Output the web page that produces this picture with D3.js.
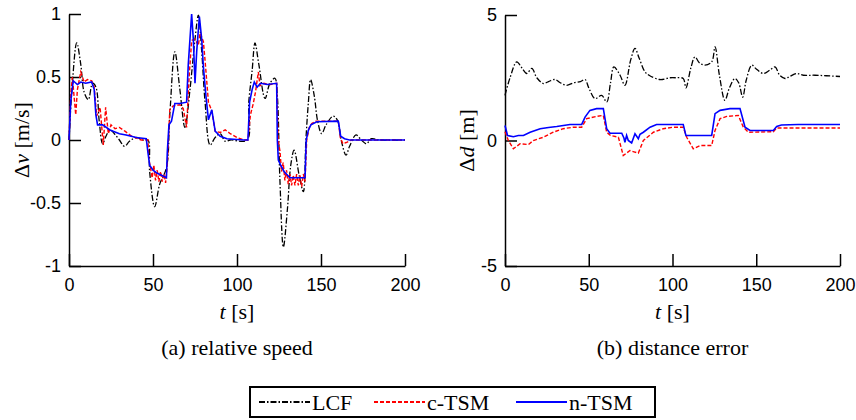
<!DOCTYPE html>
<html>
<head>
<meta charset="utf-8">
<script src="https://cdn.jsdelivr.net/npm/d3@7"></script>
<style>
  body { margin: 0; background: #fff; }
  svg text { fill: #000; }
  .serif { font-family: "Times New Roman", "Liberation Serif", serif; font-size: 22px; }
  .sans { font-family: Arial, "Liberation Sans", sans-serif; font-size: 18px; }
</style>
</head>
<body>
<svg id="chart" width="856" height="420"></svg>
<script>
// ---- data: [t, value] ----
const speedLCF = [[0,0],[2,0.45],[4.6,0.77],[7,0.6],[9,0.38],[11.5,0.32],[14,0.45],[16,0.42],[18,0.15],[20,-0.03],[22,0.03],[24.4,0.08],[27,0.05],[30,0],[33,-0.05],[36,-0.01],[40,0.02],[44,0],[47,0],[48,-0.25],[51,-0.53],[54,-0.35],[58,-0.22],[60,0.2],[63,0.7],[66,0.4],[69,0.1],[72,0.4],[75,0.8],[77,0.99],[79,0.7],[81,0.3],[84,-0.04],[87,0.02],[90,0.05],[93,-0.01],[96,0],[106,0],[107,0.3],[109,0.55],[110.7,0.77],[113,0.6],[116.7,0.33],[119.6,0.45],[122.6,0.49],[124,0.35],[125.5,-0.3],[127.6,-0.85],[130,-0.55],[132,-0.2],[134,-0.08],[137,-0.28],[139.5,-0.41],[141,0],[142.5,0.3],[143.8,0.48],[146,0.35],[148,0.15],[150.4,0.05],[153,0.12],[157.3,0.19],[160,0.15],[162,0],[164.9,-0.12],[167,-0.05],[170.8,0.04],[174,0],[177,-0.03],[180,0.01],[185,0],[200,0]];
const speedCTSM = [[0,0],[1,0.35],[2,0.5],[3,0.35],[4,0.2],[5,0.4],[7,0.54],[9,0.46],[11,0.48],[13.5,0.47],[15,0.42],[16.5,0.19],[18.5,0.26],[20.4,-0.04],[21.8,0.26],[23.4,0.05],[25,0.12],[27.4,0.09],[30,0.1],[33.3,0.07],[37.3,0.03],[43,0],[47,0],[47.5,-0.15],[48.5,-0.22],[49.5,-0.3],[50.5,-0.2],[51.5,-0.32],[52.5,-0.24],[53.5,-0.33],[54.5,-0.25],[55.5,-0.33],[56.5,-0.27],[57.5,-0.34],[58.5,-0.2],[60,0.24],[62,0.27],[66,0.28],[68,0.25],[70,0.1],[71.5,0.5],[73,0.79],[75,0.8],[77,0.75],[78,0.85],[80,0.78],[81,0.63],[83,0.3],[85,0.23],[87,0.07],[90,0.06],[93,0.08],[96,0.05],[100,0.02],[104,0],[106.5,0],[108,0.2],[109.7,0.29],[111,0.38],[112.7,0.54],[113.7,0.43],[116,0.45],[120,0.44],[123.6,0.45],[124.5,0],[125.6,-0.09],[126.5,-0.25],[127.5,-0.18],[128.5,-0.32],[129.5,-0.24],[130.5,-0.35],[131.5,-0.27],[132.5,-0.36],[133.5,-0.28],[134.5,-0.36],[135.5,-0.27],[136.5,-0.36],[137.5,-0.28],[138.5,-0.37],[139.5,-0.27],[140.5,-0.33],[141.5,0],[143,0.1],[144.5,0.13],[147,0.15],[160.3,0.15],[161.5,0.02],[163,-0.03],[165,-0.02],[168,0],[200,0]];
const speedNTSM = [[0,0],[1,0.3],[2.5,0.47],[5,0.44],[7,0.46],[10,0.45],[13.5,0.46],[15,0.4],[16,0.2],[17,0.12],[20,0.12],[24.4,0.08],[30,0.05],[34,0.04],[40,0.02],[46,0.01],[47,-0.1],[48,-0.2],[50,-0.24],[52,-0.26],[55,-0.28],[58,-0.3],[58.5,-0.1],[59.5,0.12],[61,0.15],[63,0.29],[66,0.29],[70,0.3],[71,0.6],[73,1.0],[74,0.8],[75,0.45],[76,0.7],[77.6,0.98],[79,0.8],[80,0.58],[81.5,0.35],[83,0.16],[85,0.24],[87,0.07],[90,0.03],[94,0.01],[104,0],[106.5,0],[107.5,0.3],[109,0.4],[110.3,0.46],[112,0.42],[114,0.45],[118,0.44],[123.6,0.45],[124,0],[124.6,-0.16],[126,-0.2],[128,-0.25],[131.5,-0.3],[140.5,-0.3],[141.2,0],[142.5,0.08],[144,0.12],[147.5,0.145],[160.3,0.15],[161.7,0.03],[164,0.01],[167,0],[200,0]];

const distLCF = [[0,1.8],[3,2.5],[7,3.13],[10,2.9],[13,2.67],[16,2.87],[19,2.5],[22.9,2.27],[26,2.35],[29.9,2.43],[33,2.3],[36.8,2.2],[41,2.3],[45,2.35],[47.8,2.43],[50,2.1],[53.7,1.67],[57.7,1.8],[60.7,1.53],[63,2.3],[65,2.93],[68.7,2.6],[71.6,2.2],[75,3.2],[77.6,3.67],[80,3.3],[83.6,2.73],[86,2.6],[92.5,2.43],[98.5,2.5],[102,2.5],[106.4,2.47],[108,2.1],[111,2.9],[113.4,3.33],[116,3.1],[119.4,3.0],[123.4,3.13],[125.4,3.73],[128,2.6],[131.3,1.6],[134,2.1],[137.3,2.47],[139.5,2.3],[141.9,1.73],[144,2.4],[147.3,3.0],[150,2.85],[154.2,2.67],[158,2.8],[161.2,2.93],[164,2.6],[167.2,2.47],[170,2.55],[174.1,2.67],[178,2.6],[185,2.6],[200,2.55]];
const distCTSM = [[0,0.35],[2,0],[5,-0.33],[9,-0.13],[14,-0.16],[16.9,0],[22.9,0.13],[28.8,0.33],[34.8,0.47],[40.8,0.53],[45.8,0.53],[48.8,0.87],[54.7,0.96],[58.7,1.0],[60.7,0.33],[63,0.2],[67.7,0.13],[70.6,-0.6],[74.6,-0.4],[77,-0.45],[79.6,-0.5],[82.6,0],[88.6,0.33],[94.5,0.47],[100.5,0.53],[106.4,0.53],[108.5,0.13],[112.4,-0.33],[116.4,-0.2],[123.4,-0.2],[125.4,0.4],[128.4,0.87],[132.4,0.96],[139.3,1.0],[142.3,0.53],[145.3,0.33],[160.2,0.35],[162.2,0.5],[200,0.5]];
const distNTSM = [[0,0.6],[1.5,0.2],[5,0.15],[8,0.2],[11,0.2],[15,0.33],[21,0.47],[26,0.52],[30.9,0.56],[38.8,0.64],[45.8,0.64],[47.8,0.93],[50.7,1.2],[54.7,1.27],[58.7,1.27],[60.7,0.47],[62.7,0.29],[69.7,0.29],[71,0.1],[71.6,-0.07],[72.6,0.2],[73.6,0],[75.6,-0.1],[77.6,0.27],[79.6,0.07],[80.6,0.25],[82.6,0.33],[86.6,0.53],[90.5,0.64],[106.4,0.64],[108,0.2],[123.4,0.2],[125.4,1.07],[128.4,1.2],[134.3,1.27],[140.3,1.27],[143.3,0.53],[146.3,0.4],[160.2,0.4],[162.2,0.56],[165,0.62],[175,0.64],[200,0.64]];

const tTicks = [0, 50, 100, 150, 200];
const speedTicks = [-1, -0.5, 0, 0.5, 1];
const distTicks = [-5, 0, 5];
const seriesNames = ["LCF", "c-TSM", "n-TSM"];

const styles = {
  "LCF":   { color: "#000000", dash: "6,2,1.5,2", width: 1.3 },
  "c-TSM": { color: "#ff0000", dash: "4,2", width: 1.4 },
  "n-TSM": { color: "#0000ff", dash: null, width: 1.6 }
};

const svg = d3.select("#chart");
const fmt = d => String(d);   // plain hyphen minus like the original

function panel(x0, x1, yTop, yBot, yDomain, yTicks, series, ylab, ylabX, caption) {
  const ax = d3.scaleLinear().domain([0, 200]).range([x0, x1]);
  const ay = d3.scaleLinear().domain(yDomain).range([yBot, yTop]);

  const xg = svg.append("g")
    .attr("transform", `translate(0,${yBot})`)
    .call(d3.axisBottom(ax).tickValues(tTicks).tickFormat(fmt).tickSizeInner(-12).tickSizeOuter(0).tickPadding(12));
  const yg = svg.append("g")
    .attr("transform", `translate(${x0},0)`)
    .call(d3.axisLeft(ay).tickValues(yTicks).tickFormat(fmt).tickSizeInner(-12).tickSizeOuter(0).tickPadding(8));
  for (const g of [xg, yg]) {
    g.attr("font-family", null).attr("font-size", null);
    g.selectAll("path, line").attr("stroke", "#000").attr("stroke-width", 1.5);
    g.selectAll("text").attr("class", "sans").attr("fill", "#000");
  }

  const line = d3.line().x(d => ax(d[0])).y(d => ay(d[1]));
  series.forEach((data, i) => {
    const st = styles[seriesNames[i]];
    svg.append("path")
      .attr("d", line.curve(i === 0 ? d3.curveCatmullRom : d3.curveLinear)(data))
      .attr("fill", "none")
      .attr("stroke", st.color)
      .attr("stroke-width", st.width)
      .attr("stroke-dasharray", st.dash);
  });

  const cx = (x0 + x1) / 2;
  const tl = svg.append("text")
    .attr("class", "serif")
    .attr("x", cx).attr("y", 319)
    .attr("text-anchor", "middle");
  tl.append("tspan").style("font-style", "italic").text("t");
  tl.append("tspan").text(" [s]");

  svg.append("text")
    .attr("class", "serif")
    .attr("x", cx).attr("y", 355)
    .attr("text-anchor", "middle")
    .text(caption);

  const yl = svg.append("text")
    .attr("class", "serif")
    .attr("transform", `translate(${ylabX},${(yTop + yBot) / 2}) rotate(-90)`)
    .attr("text-anchor", "middle");
  yl.append("tspan").text("Δ");
  yl.append("tspan").style("font-style", "italic").text(ylab[0]);
  yl.append("tspan").text(" " + ylab[1]);
}

panel(69, 405, 14, 266, [-1, 1], speedTicks,
  [speedLCF, speedCTSM, speedNTSM], ["v", "[m/s]"], 29, "(a) relative speed");
panel(505, 840, 15, 266, [-5, 5], distTicks,
  [distLCF, distCTSM, distNTSM], ["d", "[m]"], 474, "(b) distance error");

// legend
svg.append("rect")
  .attr("x", 250).attr("y", 387).attr("width", 405).attr("height", 30)
  .attr("fill", "#fff").attr("stroke", "#000").attr("stroke-width", 2);

const legX = [259, 374, 516];
seriesNames.forEach((name, i) => {
  const st = styles[name];
  svg.append("line")
    .attr("x1", legX[i]).attr("x2", legX[i] + 51)
    .attr("y1", 402).attr("y2", 402)
    .attr("stroke", st.color).attr("stroke-width", 2)
    .attr("stroke-dasharray", st.dash);
  svg.append("text")
    .attr("class", "serif")
    .attr("x", legX[i] + 53).attr("y", 410)
    .text(name);
});
</script>
</body>
</html>
